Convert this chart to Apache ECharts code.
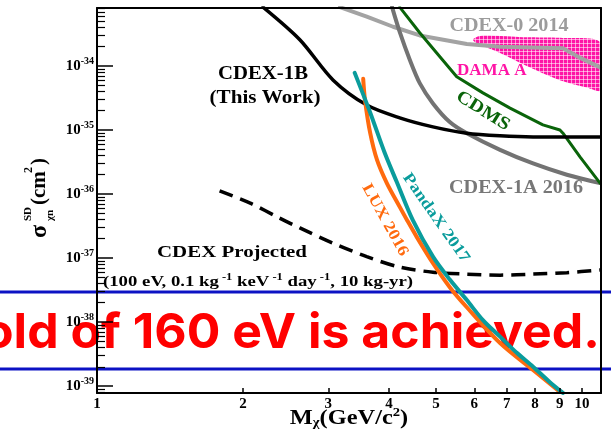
<!DOCTYPE html>
<html>
<head>
<meta charset="utf-8">
<script src="https://cdn.jsdelivr.net/npm/echarts@6/dist/echarts.min.js"></script>
<style>
html, body { margin: 0; padding: 0; background: #fff; }
#chart { width: 611px; height: 436px; }
</style>
</head>
<body>
<div id="chart"></div>
<script>
// WIMP mass (GeV/c^2) and SD cross section (cm^2)
const cdex1bMass = [2.20, 2.62, 3.07, 3.60, 4.21, 4.93, 5.79, 6.78, 7.93, 10.9]
const cdex1bXs = [8.3e-34, 2.57e-34, 6.0e-35, 2.45e-35, 1.55e-35, 1.12e-35, 8.9e-36, 8.1e-36, 7.8e-36, 7.8e-36]

const cdex0Mass = [3.17, 3.60, 4.08, 4.63, 5.79, 6.78, 9.14, 9.9, 10.9]
const cdex0Xs = [8.3e-34, 5.9e-34, 4.1e-34, 3.0e-34, 2.2e-34, 2.0e-34, 1.9e-34, 1.35e-34, 9.5e-35]

const cdmsMass = [4.21, 4.63, 5.10, 5.52, 6.25, 7.11, 8.31, 9.01, 9.14, 9.91, 10.9]
const cdmsXs = [8.3e-34, 3.3e-34, 1.38e-34, 6.8e-35, 3.8e-35, 2.2e-35, 1.2e-35, 1.0e-35, 8.9e-36, 3.8e-36, 1.48e-36]

const cdex1aMass = [4.06, 4.21, 4.42, 4.63, 4.93, 5.34, 5.79, 6.78, 7.93, 9.31, 10.9]
const cdex1aXs = [8.3e-34, 3.4e-34, 1.23e-34, 5.4e-35, 2.6e-35, 1.33e-35, 8.9e-36, 4.9e-36, 3.0e-36, 2.0e-36, 1.48e-36]

const pandaxMass = [3.40, 3.66, 3.92, 4.15, 4.48, 4.93, 5.34, 5.79, 6.25, 6.78, 7.34, 7.93, 8.59, 9.14]
const pandaxXs = [7.8e-35, 1.86e-35, 4.4e-36, 1.55e-36, 3.9e-37, 1.05e-37, 4.6e-38, 2.2e-38, 1.07e-38, 5.9e-39, 3.3e-39, 2.0e-39, 1.15e-39, 7.8e-40]

const luxMass = [3.54, 3.57, 3.66, 3.78, 3.96, 4.21, 4.36, 4.57, 4.93, 5.34, 5.79, 6.78, 7.93, 9.01]
const luxXs = [6.3e-35, 2.95e-35, 8.9e-36, 3.4e-36, 1.48e-36, 6.3e-37, 3.9e-37, 2.1e-37, 8.3e-38, 3.5e-38, 1.7e-38, 4.7e-39, 1.78e-39, 8.1e-40]

const projMass = [1.79, 2.07, 2.38, 2.62, 3.07, 3.60, 4.21, 4.93, 5.79, 6.78, 7.93, 9.31, 10.9]
const projXs = [1.12e-36, 7.2e-37, 4.2e-37, 2.95e-37, 1.7e-37, 1.05e-37, 7.2e-38, 6.0e-38, 5.6e-38, 5.4e-38, 5.6e-38, 5.9e-38, 6.5e-38]

// DAMA allowed region outline (top edge left->right, then bottom edge right->left)
const damaMass = [5.96, 6.16, 6.78, 7.81, 9.01, 10.95, 10.95, 10.24, 9.01, 7.70, 6.78, 6.16]
const damaXs = [2.57e-34, 2.95e-34, 2.95e-34, 2.8e-34, 2.75e-34, 2.3e-34, 4.2e-35, 4.6e-35, 6.0e-35, 1.0e-34, 1.6e-34, 2.14e-34]

const massTicks = [1, 2, 3, 4, 5, 6, 7, 8, 9, 10]
const xsDecades = [-39, -38, -37, -36, -35, -34]
const massMin = 1, massMax = 10.95
const xsMin = 7.78e-40, xsMax = 8.05e-34

const serif = '"Liberation Serif", "DejaVu Serif", serif'
const lg = Math.log10

const minorTicks = []
for (let n = -40; n <= -34; n++) {
  for (let k = 2; k <= 9; k++) {
    const v = n + lg(k)
    if (v > lg(xsMin) && v < lg(xsMax)) minorTicks.push(v)
  }
}

const mctx = document.createElement('canvas').getContext('2d')
function fit(text, font, width) {
  mctx.font = font
  return width / mctx.measureText(text).width
}

function label(text, cx, cy, size, color, width, rot) {
  const font = 'bold ' + size + 'px ' + serif
  return {
    type: 'text', x: cx, y: cy, rotation: (rot || 0) * Math.PI / 180,
    scaleX: fit(text, font, width), z: 6, silent: true,
    style: {text, font, fill: color, align: 'center', verticalAlign: 'middle'}
  }
}

function curve(name, mass, xs, color, width, extra) {
  return Object.assign({
    name, type: 'line', z: 4, silent: true,
    data: mass.map((m, i) => [lg(m), lg(xs[i])]),
    symbol: 'none', showSymbol: false, smooth: 0.3,
    lineStyle: {color, width, cap: 'round', join: 'round'}
  }, extra)
}

// pink with a fine white grid, like the hatched DAMA area
const hatch = document.createElement('canvas')
hatch.width = 4; hatch.height = 4
const hc = hatch.getContext('2d')
hc.fillStyle = '#ff14a6'; hc.fillRect(0, 0, 4, 4)
hc.fillStyle = 'rgba(255,255,255,0.55)'
hc.fillRect(3, 0, 1, 4); hc.fillRect(0, 3, 4, 1)

const chart = echarts.init(document.getElementById('chart'))

const redText = 'old of 160 eV is achieved.'
const redFont = 'bold 48px Inter, "DejaVu Sans", sans-serif'

const option = {
  animation: false,
  grid: {left: 97, right: 10, top: 8, bottom: 43, containLabel: false, outerBoundsMode: 'none'},
  xAxis: [{
    type: 'value', min: lg(massMin), max: lg(massMax), position: 'bottom', z: 5,
    axisLine: {lineStyle: {color: '#000', width: 2}},
    axisTick: {inside: true, length: 5, customValues: massTicks.map(lg), lineStyle: {color: '#000', width: 1.5}},
    axisLabel: {
      customValues: massTicks.map(lg), margin: 4,
      formatter: v => String(Math.round(Math.pow(10, v))),
      color: '#000', fontFamily: serif, fontWeight: 'bold', fontSize: 15
    },
    splitLine: {show: false}
  }, {
    type: 'value', min: lg(massMin), max: lg(massMax), position: 'top', z: 5,
    axisLine: {lineStyle: {color: '#000', width: 2}},
    axisTick: {show: false}, axisLabel: {show: false}, splitLine: {show: false}
  }],
  yAxis: [{
    type: 'value', min: lg(xsMin), max: lg(xsMax), position: 'left', z: 5,
    axisLine: {lineStyle: {color: '#000', width: 2}},
    axisTick: {inside: true, length: 16, customValues: xsDecades, lineStyle: {color: '#000', width: 1.5}},
    axisLabel: {
      customValues: xsDecades, margin: 3,
      formatter: v => '{b|10}{s|' + Math.round(v) + '}',
      rich: {
        b: {fontFamily: serif, fontWeight: 'bold', fontSize: 15, color: '#000'},
        s: {fontFamily: serif, fontWeight: 'bold', fontSize: 10, color: '#000', padding: [0, 0, 10, 0]}
      }
    },
    splitLine: {show: false}
  }, {
    type: 'value', min: lg(xsMin), max: lg(xsMax), position: 'left', z: 5,
    axisLine: {show: false},
    axisTick: {inside: true, length: 8, customValues: minorTicks, lineStyle: {color: '#000', width: 1.2}},
    axisLabel: {show: false}, splitLine: {show: false}
  }, {
    type: 'value', min: lg(xsMin), max: lg(xsMax), position: 'right', z: 5,
    axisLine: {lineStyle: {color: '#000', width: 2}},
    axisTick: {show: false}, axisLabel: {show: false}, splitLine: {show: false}
  }],
  series: [
    {
      name: 'DAMA', type: 'custom', z: 4, silent: true, clip: true,
      data: damaMass.map((m, i) => [lg(m), lg(damaXs[i])]),
      renderItem: (params, api) => {
        if (params.dataIndex !== 0) return null
        const pts = damaMass.map((m, i) => api.coord([lg(m), lg(damaXs[i])]))
        return {type: 'polygon', shape: {points: pts, smooth: 0.3}, style: {fill: {image: hatch, repeat: 'repeat'}}}
      }
    },
    curve('CDEX-0 2014', cdex0Mass, cdex0Xs, '#a3a3a3', 4, {smooth: false}),
    curve('CDEX-1A 2016', cdex1aMass, cdex1aXs, '#737373', 4),
    curve('CDMS', cdmsMass, cdmsXs, '#0a640a', 3, {smooth: false}),
    curve('CDEX-1B', cdex1bMass, cdex1bXs, '#000', 3.5),
    curve('CDEX Projected', projMass, projXs, '#000', 3.5, {lineStyle: {color: '#000', width: 3.5, type: [14, 8], cap: 'butt'}}),
    curve('LUX 2016', luxMass, luxXs, '#ff6a0e', 4),
    curve('PandaX 2017', pandaxMass, pandaxXs, '#0a9c9c', 4)
  ],
  graphic: [
    // slide overlay behind the plot lines and axes
    {type: 'line', z: 1, silent: true, shape: {x1: 0, y1: 292, x2: 611, y2: 292}, style: {stroke: '#0c12c4', lineWidth: 3}},
    {type: 'line', z: 1, silent: true, shape: {x1: 0, y1: 369, x2: 611, y2: 369}, style: {stroke: '#0c12c4', lineWidth: 3}},
    {
      type: 'text', x: -17, y: 334, z: 1, silent: true, scaleX: fit(redText, redFont, 617),
      style: {text: redText, font: redFont, fill: '#ff0000', align: 'left', verticalAlign: 'middle'}
    },
    // curve labels
    label('CDEX-1B', 263, 74, 18, '#000', 90),
    label('(This Work)', 265, 98, 18, '#000', 111),
    label('CDEX-0 2014', 509, 26, 18, '#9c9c9c', 119),
    {
      type: 'text', x: 457, y: 71, z: 2, silent: true,
      scaleX: fit('DAMA', 'bold 16px ' + serif, 53),
      style: {text: 'DAMA A', font: 'bold 16px ' + serif, fill: '#ff14a6', align: 'left', verticalAlign: 'middle'}
    },
    label('CDMS', 483, 111, 18, '#0a640a', 60, -32),
    label('CDEX-1A 2016', 516, 188, 18, '#777', 134),
    label('PandaX 2017', 436, 218, 16, '#0a9c9c', 105, -55),
    label('LUX 2016', 385, 220, 16, '#ff6a0e', 80, -61),
    label('CDEX Projected', 232, 253, 17, '#000', 150),
    {
      type: 'text', x: 103, y: 282, z: 6, silent: true, scaleX: 1.25,
      style: {
        text: '{m|(100 eV, 0.1 kg}{s| -1}{m| keV}{s| -1}{m| day}{s| -1}{m|, 10 kg-yr)}',
        align: 'left', verticalAlign: 'middle',
        rich: {
          m: {fontFamily: serif, fontWeight: 'bold', fontSize: 15, color: '#000'},
          s: {fontFamily: serif, fontWeight: 'bold', fontSize: 10, color: '#000', padding: [0, 0, 9, 0]}
        }
      }
    },
    // axis titles
    {
      type: 'text', x: 349, y: 419, z: 6, silent: true, scaleX: 1.22,
      style: {
        text: '{m|M}{s|χ}{m|(GeV/c}{p|2}{m|)}',
        align: 'center', verticalAlign: 'middle',
        rich: {
          m: {fontFamily: serif, fontWeight: 'bold', fontSize: 20, color: '#000'},
          s: {fontFamily: serif, fontWeight: 'bold', fontSize: 12, color: '#000', padding: [8, 0, 0, 0]},
          p: {fontFamily: serif, fontWeight: 'bold', fontSize: 12, color: '#000', padding: [0, 0, 12, 0]}
        }
      }
    },
    {
      type: 'group', x: 40, y: 240, rotation: Math.PI / 2, z: 6, silent: true,
      children: [
        {type: 'text', x: 2, y: 0, style: {text: 'σ', font: 'bold 24px ' + serif, fill: '#000', verticalAlign: 'middle'}},
        {type: 'text', x: 19, y: -12, style: {text: 'SD', font: 'bold 11px ' + serif, fill: '#000', verticalAlign: 'middle'}},
        {type: 'text', x: 19, y: 10, style: {text: 'χn', font: 'bold 11px ' + serif, fill: '#000', verticalAlign: 'middle'}},
        {type: 'text', x: 35, y: 0, style: {text: '(cm', font: 'bold 21px ' + serif, fill: '#000', verticalAlign: 'middle'}},
        {type: 'text', x: 67, y: -11, style: {text: '2', font: 'bold 12px ' + serif, fill: '#000', verticalAlign: 'middle'}},
        {type: 'text', x: 75, y: 0, style: {text: ')', font: 'bold 21px ' + serif, fill: '#000', verticalAlign: 'middle'}}
      ]
    }
  ]
}

chart.setOption(option)
</script>
</body>
</html>
